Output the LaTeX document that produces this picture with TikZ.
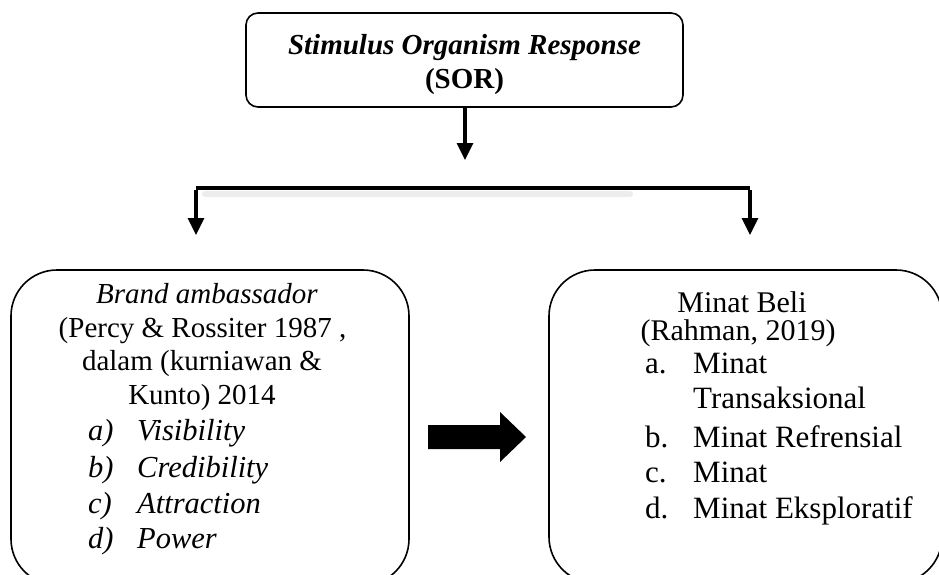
\documentclass[tikz,border=0pt]{standalone}
\usepackage{fontspec}
\setmainfont{Liberation Serif}
\usetikzlibrary{arrows.meta}
\begin{document}
\begin{tikzpicture}[x=1pt,y=-1pt,
  boxline/.style={draw=black, line width=1.6pt},
  txt/.style={anchor=base, inner sep=0pt, font=\fontsize{29}{35}\selectfont},
  rtxt/.style={anchor=base, inner sep=0pt, font=\fontsize{30}{35}\selectfont},
  ltxtw/.style={anchor=base west, inner sep=0pt, font=\fontsize{30.5}{35}\selectfont\itshape},
  rtxtw/.style={anchor=base west, inner sep=0pt, font=\fontsize{31}{35}\selectfont},
  arr/.style={line width=3.2pt, -{Triangle[length=17pt,width=16pt]}},
]
\useasboundingbox (0,0) rectangle (939,575);
\clip (0,0) rectangle (939,575);
\fill[white] (0,0) rectangle (939,575);

% top box
\node[boxline, rounded corners=12pt, minimum width=437pt, minimum height=94pt]
  (sor) at (464.5,60) {};
\node[align=center, inner sep=0pt, font=\fontsize{29}{34}\selectfont\bfseries]
  (sortxt) at (464.5,65) {\textit{Stimulus Organism Response}\\(SOR)};

% lower boxes
\node[boxline, rounded corners=46pt, minimum width=398pt, minimum height=315pt]
  (bbox) at (210,427.5) {};
\node[boxline, rounded corners=46pt, minimum width=393pt, minimum height=313pt]
  (mbox) at (745.5,426.5) {};

% connectors
\coordinate (sortip) at (465,160);
\coordinate (bl) at (196,188);
\coordinate (br) at (750,188);
\coordinate (bltip) at (196,235);
\coordinate (brtip) at (750,235);

\draw[arr] (sor.south -| sortip) -- (sortip);
\draw[line width=6pt, black!7, line cap=round] (205,194) -- (630,194);
\draw[line width=4pt, line join=miter] (bl) -- (br);
\draw[arr] ([yshift=-2pt]bl) -- (bltip);
\draw[arr] ([yshift=-2pt]br) -- (brtip);

% block arrow
\fill[black] (428,425) -- (500,425) -- (500,412) -- (526,437) -- (500,462)
  -- (500,449) -- (428,449) -- cycle;

% left text
\node[txt, font=\fontsize{29}{35}\selectfont\itshape] (b1) at (207,303) {Brand ambassador};
\node[txt] (b2) at (202.5,337) {(Percy \& Rossiter 1987 ,};
\node[txt] (b3) at (202,370) {dalam (kurniawan \&};
\node[txt] (b4) at (202,404) {Kunto) 2014};
\node[ltxtw] (ba) at (88,440) {a)};
\node[ltxtw] (bat) at (137,440) {Visibility};
\node[ltxtw] (bb) at (88,477) {b)};
\node[ltxtw] (bbt) at (137,477) {Credibility};
\node[ltxtw] (bc) at (88,513) {c)};
\node[ltxtw] (bct) at (137,513) {Attraction};
\node[ltxtw] (bd) at (88,548) {d)};
\node[ltxtw] (bdt) at (137,548) {Power};

% right text
\node[rtxt] (m1) at (742,312) {Minat Beli};
\node[rtxt] (m2) at (738,340) {(Rahman, 2019)};
\node[rtxtw] (ma) at (645,373) {a.};
\node[rtxtw] (mat) at (693,373) {Minat};
\node[rtxtw] (mat2) at (693,408) {Transaksional};
\node[rtxtw] (mb) at (645,447) {b.};
\node[rtxtw] (mbt) at (693,447) {Minat Refrensial};
\node[rtxtw] (mc) at (645,482) {c.};
\node[rtxtw] (mct) at (693,482) {Minat};
\node[rtxtw] (md) at (645,518) {d.};
\node[rtxtw] (mdt) at (693,518) {Minat Eksploratif};
\end{tikzpicture}
\end{document}
